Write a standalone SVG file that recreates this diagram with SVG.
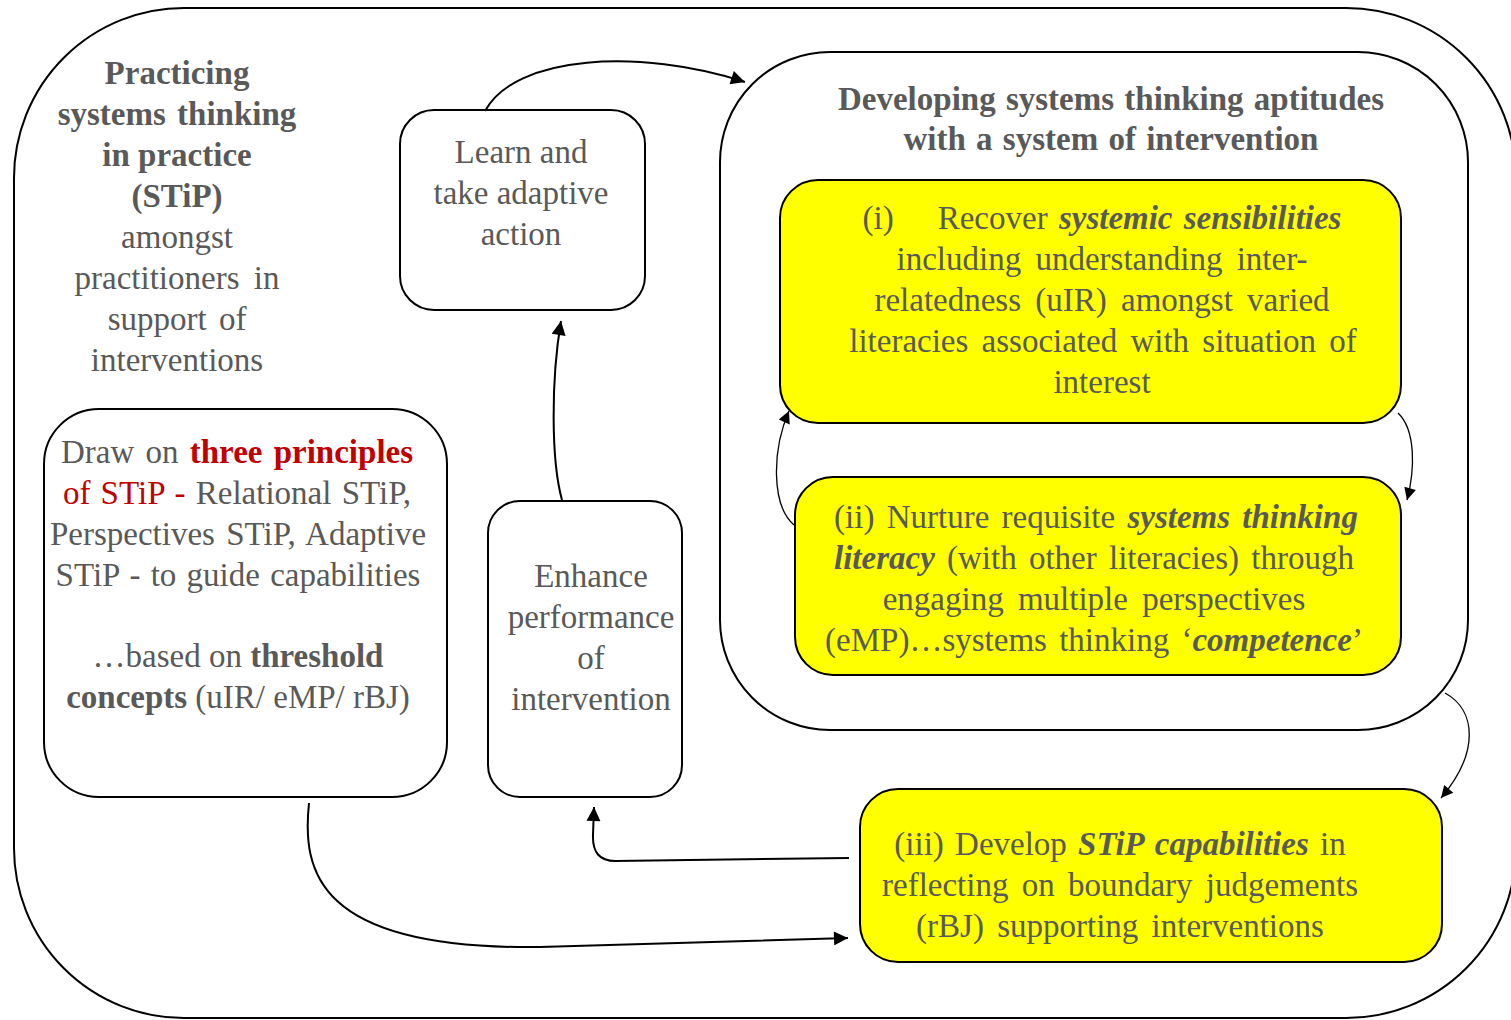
<svg xmlns="http://www.w3.org/2000/svg" width="1511" height="1020" viewBox="0 0 1511 1020">
<style>
.box{fill:#fff;stroke:#000;stroke-width:2}
.yb{fill:#ffff00;stroke:#000;stroke-width:2}
text{font-family:"Liberation Serif","Times New Roman",serif;font-size:33px;fill:#595959;text-anchor:middle}
.b{font-weight:bold}
.bi{font-weight:bold;font-style:italic}
.red{fill:#c00000}
.c{fill:none;stroke:#000;stroke-width:2}
.t{fill:none;stroke:#000;stroke-width:1.3}
</style>
<defs>
<marker id="a" viewBox="0 0 10 10" refX="10" refY="5" markerWidth="17" markerHeight="14" markerUnits="userSpaceOnUse" orient="auto">
<path d="M0,0 L10,5 L0,10 z" fill="#000"/>
</marker>
<marker id="as" viewBox="0 0 10 10" refX="10" refY="5" markerWidth="15" markerHeight="12" markerUnits="userSpaceOnUse" orient="auto">
<path d="M0,0 L10,5 L0,10 z" fill="#000"/>
</marker>
</defs>

<g id="outer">
<rect class="box" x="14" y="8" width="1502" height="1010" rx="170" ry="170"/>
<text x="177" y="84" class="b">Practicing</text>
<text x="177" y="125" class="b" word-spacing="3">systems thinking</text>
<text x="177" y="166" class="b">in practice</text>
<text x="177" y="207" class="b">(STiP)</text>
<text x="177" y="248">amongst</text>
<text x="177" y="289" word-spacing="6">practitioners in</text>
<text x="177" y="330" word-spacing="4">support of</text>
<text x="177" y="371">interventions</text>
</g>

<g id="developing">
<rect class="box" x="720" y="52" width="748" height="678" rx="110" ry="110"/>
<text x="1111" y="110" class="b" word-spacing="2">Developing systems thinking aptitudes</text>
<text x="1111" y="150" class="b" word-spacing="2">with a system of intervention</text>
</g>

<g id="learn">
<rect class="box" x="400" y="110" width="245" height="200" rx="34" ry="34"/>
<text x="521" y="163">Learn and</text>
<text x="521" y="204">take adaptive</text>
<text x="521" y="245">action</text>
</g>

<g id="draw">
<rect class="box" x="44" y="409" width="403" height="388" rx="55" ry="55"/>
<text x="237" y="463" word-spacing="3">Draw on <tspan class="b red">three principles</tspan></text>
<text x="237" y="504" word-spacing="2"><tspan class="red">of STiP  -</tspan> Relational STiP,</text>
<text x="238" y="545" word-spacing="3">Perspectives STiP, Adaptive</text>
<text x="238" y="586" word-spacing="2">STiP - to guide capabilities</text>
<text x="238" y="667">…based on  <tspan class="b">threshold</tspan></text>
<text x="238" y="708"><tspan class="b">concepts</tspan> (uIR/ eMP/ rBJ)</text>
</g>

<g id="enhance">
<rect class="box" x="488" y="501" width="194" height="296" rx="32" ry="32"/>
<text x="591" y="587">Enhance</text>
<text x="591" y="628">performance</text>
<text x="591" y="669">of</text>
<text x="591" y="710">intervention</text>
</g>

<g id="box-i">
<rect class="yb" x="780" y="180" width="621" height="243" rx="38" ry="38"/>
<text x="1102" y="229" word-spacing="3"><tspan>(i)</tspan><tspan dx="44">Recover </tspan><tspan class="bi">systemic sensibilities</tspan></text>
<text x="1102" y="270" word-spacing="6">including understanding inter-</text>
<text x="1102" y="311" word-spacing="6">relatedness (uIR) amongst varied</text>
<text x="1103" y="352" word-spacing="5">literacies associated with situation of</text>
<text x="1102" y="393">interest</text>
</g>

<g id="box-ii">
<rect class="yb" x="795" y="477" width="606" height="198" rx="38" ry="38"/>
<text x="1096" y="528" word-spacing="4">(ii)  Nurture requisite <tspan class="bi">systems thinking</tspan></text>
<text x="1094" y="569" word-spacing="4"><tspan class="bi">literacy</tspan> (with other literacies) through</text>
<text x="1094" y="610" word-spacing="6">engaging multiple perspectives</text>
<text x="1094" y="651" word-spacing="4">(eMP)…systems thinking ‘<tspan class="bi">competence</tspan>’</text>
</g>

<g id="box-iii">
<rect class="yb" x="860" y="789" width="582" height="173" rx="38" ry="38"/>
<text x="1120" y="855" word-spacing="3">(iii) Develop <tspan class="bi">STiP capabilities</tspan> in</text>
<text x="1120" y="896" word-spacing="5">reflecting on boundary judgements</text>
<text x="1120" y="937" word-spacing="5">(rBJ) supporting interventions</text>
</g>

<g id="connectors">
<path class="c" d="M485,111 C515,55 640,48 745,82" marker-end="url(#a)"/>
<path class="c" d="M562,500 C551,460 551,380 561,321" marker-end="url(#a)"/>
<path class="c" d="M849,858 L615,861 Q592,861 593,835 L594,807" marker-end="url(#a)"/>
<path class="c" d="M309,803 C302,870 315,950 540,947 L848,938" marker-end="url(#a)"/>
<path class="t" d="M1398,413 C1416,430 1415,470 1407,500" marker-end="url(#as)"/>
<path class="t" d="M794,525 C771,505 772,450 789,411" marker-end="url(#as)"/>
<path class="t" d="M1445,693 C1476,710 1480,752 1441,798" marker-end="url(#as)"/>
</g>
</svg>
